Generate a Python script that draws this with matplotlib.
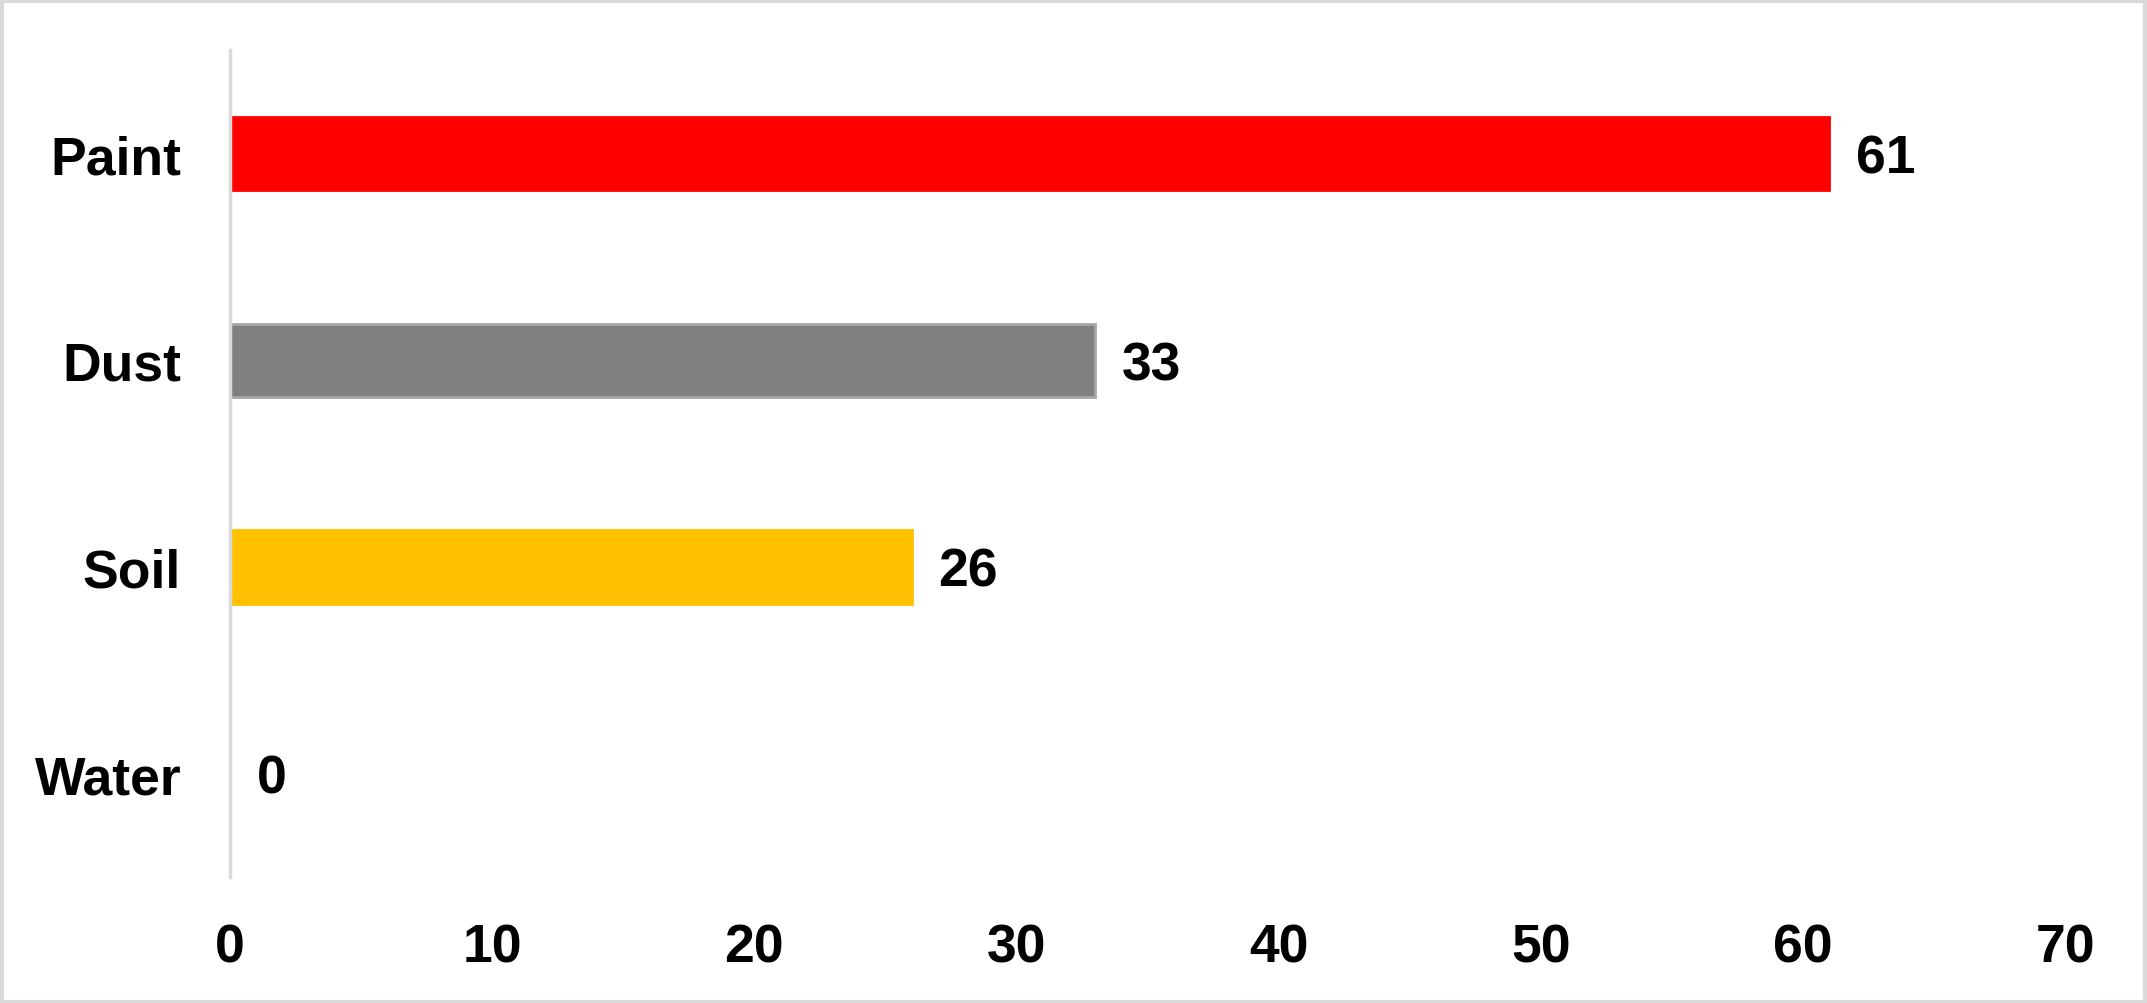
import matplotlib
matplotlib.use("Agg")
import matplotlib.pyplot as plt
from matplotlib.patches import Rectangle

categories = ["Paint", "Dust", "Soil", "Water"]
values = [61, 33, 26, 0]
colors = ["#FF0000", "#808080", "#FFC000", "#5B9BD5"]
edgecolors = ["#FF0000", "#A6A6A6", "#FFC000", "#5B9BD5"]
xticks = [0, 10, 20, 30, 40, 50, 60, 70]

plt.rcParams['font.family'] = ['Liberation Sans', 'DejaVu Sans']

fig = plt.figure(figsize=(21.47, 10.04), dpi=100)
ax = fig.add_axes([0.107, 0.1255, 0.855, 0.8235])

ypos = list(range(len(categories)))
bars = ax.barh(ypos, values, height=0.355, color=colors, edgecolor=edgecolors, linewidth=2)
ax.set_ylim(len(categories) - 0.5, -0.5)
ax.set_xlim(0, 70)
ax.set_yticks(ypos)
ax.set_yticklabels(categories, fontsize=38.5, fontweight='bold')
ax.set_xticks(xticks)
ax.set_xticklabels([str(t) for t in xticks], fontsize=38.5, fontweight='bold')
ax.tick_params(axis='both', length=0)
ax.tick_params(axis='y', pad=35)
ax.tick_params(axis='x', pad=33)

for s in ['top', 'right', 'bottom']:
    ax.spines[s].set_visible(False)
ax.spines['left'].set_color('#D9D9D9')
ax.spines['left'].set_linewidth(2.5)

for y, v in zip(ypos, values):
    ax.annotate(str(v), xy=(v, y), xytext=(27, -5), textcoords='offset pixels',
                ha='left', va='center', fontsize=38.5, fontweight='bold')

fig.patches.append(Rectangle((0.0007, 0.001), 0.9986, 0.997, transform=fig.transFigure,
                             fill=False, edgecolor='#D9D9D9', linewidth=3))

fig.savefig("out.png", dpi=100, facecolor='white')
